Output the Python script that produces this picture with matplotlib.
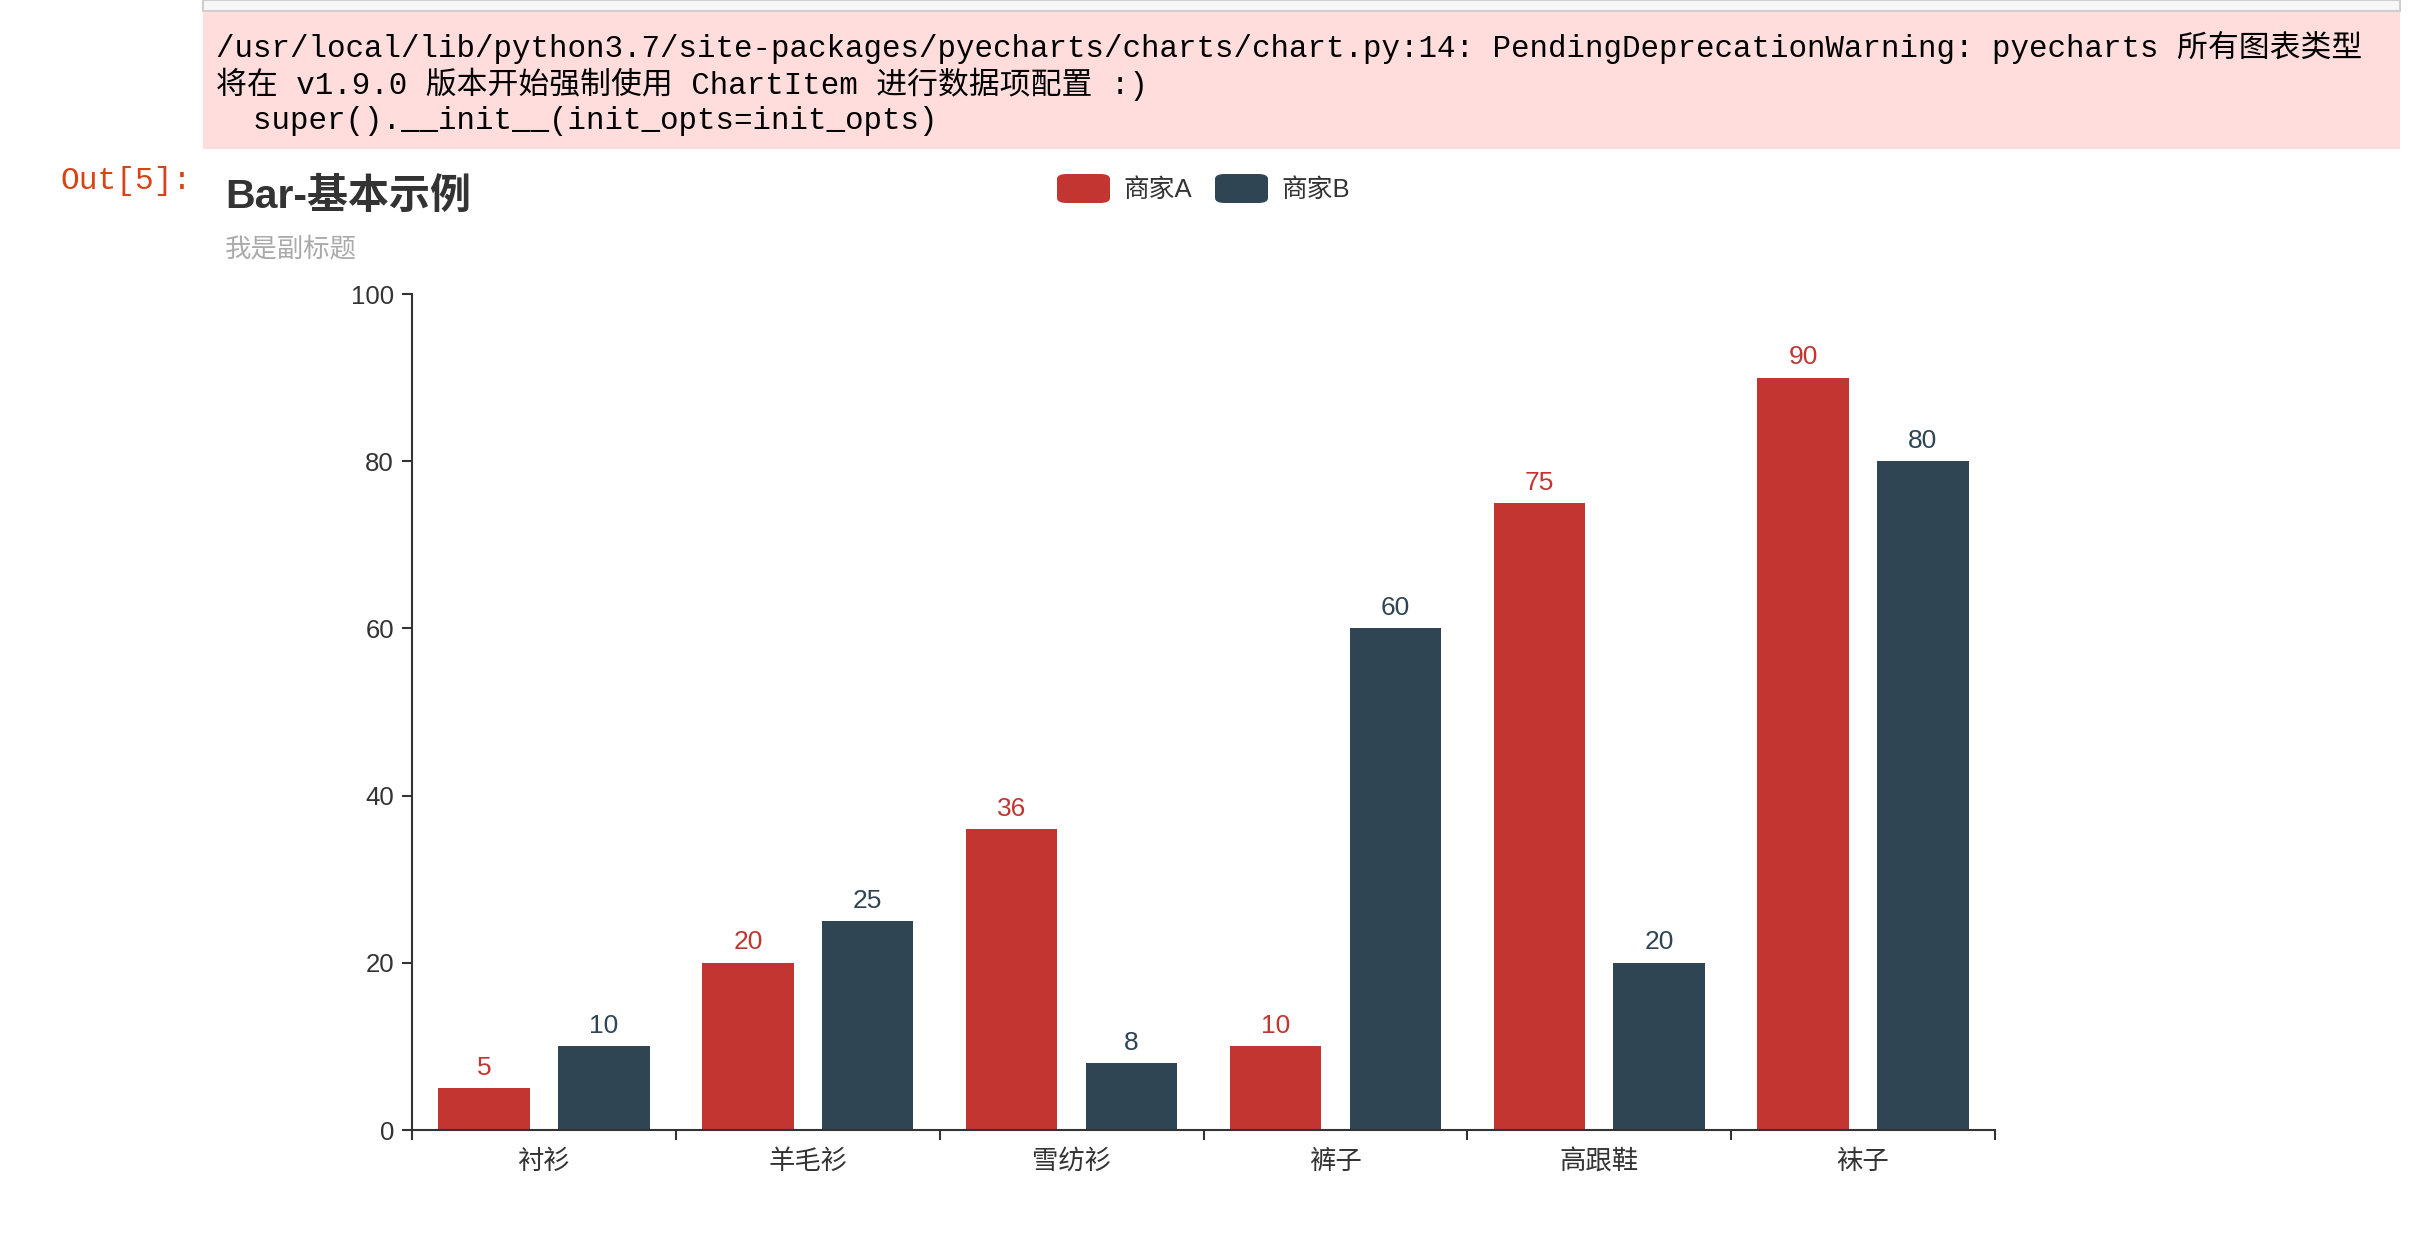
import matplotlib.pyplot as plt
import numpy as np
from matplotlib.patches import FancyBboxPatch, Rectangle

plt.rcParams['font.family'] = ['Liberation Sans', 'Noto Sans CJK SC']

# dados
categorias = ["衬衫", "羊毛衫", "雪纺衫", "裤子", "高跟鞋", "袜子"]
valores_a = [5, 20, 36, 10, 75, 90]
valores_b = [10, 25, 8, 60, 20, 80]
series = ["商家A", "商家B"]
cores = ["#c23531", "#2f4554"]

titulo = "Bar-基本示例"
subtitulo = "我是副标题"
aviso = [
    "/usr/local/lib/python3.7/site-packages/pyecharts/charts/chart.py:14: PendingDeprecationWarning: pyecharts 所有图表类型",
    "将在 v1.9.0 版本开始强制使用 ChartItem 进行数据项配置 :)",
    "  super().__init__(init_opts=init_opts)",
]

W, H = 2436, 1234
fig = plt.figure(figsize=(W / 100, H / 100), dpi=100)
fig.patch.set_facecolor("white")


def fx(px):
    return px / W


def fy(py):
    return 1 - py / H


mono = ['Liberation Mono', 'Noto Sans CJK SC']

# caixa da celula anterior + caixa de aviso (stderr)
fig.patches.append(Rectangle((fx(203), fy(11)), fx(2400) - fx(203), fy(0) - fy(11),
                             transform=fig.transFigure, facecolor="#f7f7f7",
                             edgecolor="#cfcfcf", lw=1.5))
fig.patches.append(Rectangle((fx(203), fy(149)), fx(2400) - fx(203), fy(12) - fy(149),
                             transform=fig.transFigure, facecolor="#ffdddd",
                             edgecolor="none"))
for i, linha in enumerate(aviso):
    fig.text(fx(216), fy(48 + i * 36.5), linha, family=mono, fontsize=22.2,
             color="black", va="center", ha="left")

fig.text(fx(61), fy(181), "Out[5]:", family=mono, fontsize=22.5,
         color="#d84315", va="center", ha="left")

fig.text(fx(225), fy(196), titulo, fontsize=29.5, fontweight="bold",
         color="#333333", va="center", ha="left")
fig.text(fx(225), fy(249), subtitulo, fontsize=19, color="#aaaaaa",
         va="center", ha="left")

# legenda
leg_x = [1057, 1215]
for lx, nome, cor in zip(leg_x, series, cores):
    fig.patches.append(FancyBboxPatch((fx(lx), fy(203)), fx(53), fy(174) - fy(203),
                                      boxstyle="round,pad=0,rounding_size=0.004",
                                      transform=fig.transFigure, facecolor=cor,
                                      edgecolor="none"))
    fig.text(fx(lx + 66), fy(190), nome, fontsize=18.5, color="#333333",
             va="center", ha="left")

# grafico
ax = fig.add_axes([fx(412), fy(1130), fx(1995) - fx(412), fy(294) - fy(1130)])

x = np.arange(len(categorias))
largura = 0.347
desloc = 0.227

for vals, off, cor in [(valores_a, -desloc, cores[0]), (valores_b, desloc, cores[1])]:
    barras = ax.bar(x + off, vals, width=largura, color=cor)
    for b, v in zip(barras, vals):
        ax.annotate(str(v), (b.get_x() + b.get_width() / 2, v), xytext=(0, 6),
                    textcoords="offset points", ha="center", va="bottom",
                    fontsize=19, color=cor)

ax.set_xlim(-0.5, len(categorias) - 0.5)
ax.set_ylim(0, 100)
ax.set_yticks(range(0, 101, 20))
ax.set_xticks(x)
ax.set_xticklabels(categorias)
ax.set_xticks(np.arange(-0.5, len(categorias), 1), minor=True)

for s in ["top", "right"]:
    ax.spines[s].set_visible(False)
for s in ["left", "bottom"]:
    ax.spines[s].set_color("#333333")
    ax.spines[s].set_linewidth(1.5)

ax.tick_params(axis="y", length=7, width=1.5, color="#333333", labelsize=18.5,
               labelcolor="#333333", pad=6)
ax.tick_params(axis="x", which="major", length=0, labelsize=19,
               labelcolor="#333333", pad=14)
ax.tick_params(axis="x", which="minor", length=7, width=1.5, color="#333333")

plt.savefig("out.png", dpi=100)
